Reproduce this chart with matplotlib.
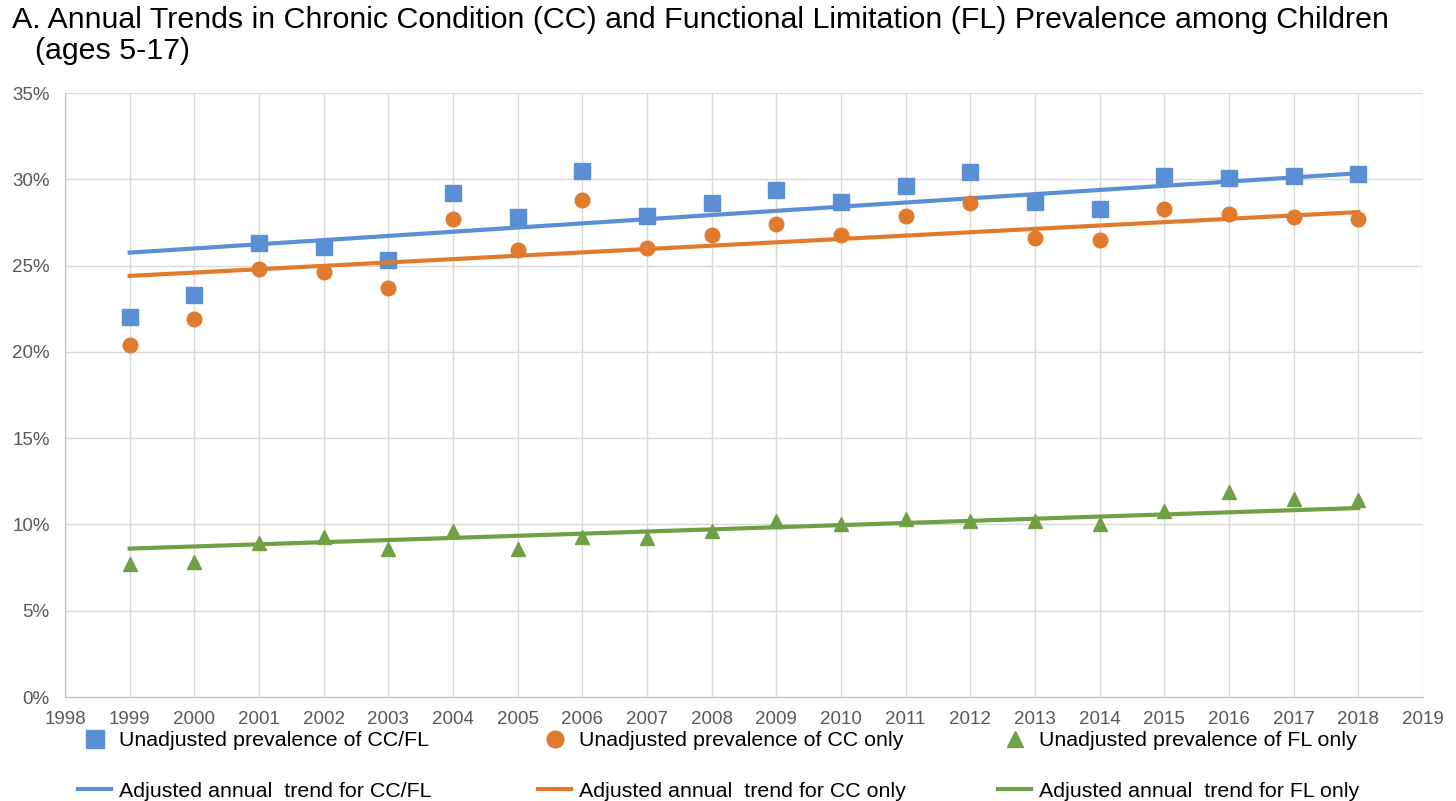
import numpy as np
import matplotlib.pyplot as plt
from matplotlib.ticker import FuncFormatter

plt.rcParams['font.family'] = ['Liberation Sans', 'DejaVu Sans']

years = list(range(1999, 2019))

cc_fl = [22.0, 23.3, 26.3, 26.1, 25.3, 29.2, 27.8, 30.5, 27.9, 28.6,
         29.4, 28.7, 29.6, 30.4, 28.7, 28.3, 30.2, 30.1, 30.2, 30.3]
cc_only = [20.4, 21.9, 24.8, 24.6, 23.7, 27.7, 25.9, 28.8, 26.0, 26.8,
           27.4, 26.8, 27.9, 28.6, 26.6, 26.5, 28.3, 28.0, 27.8, 27.7]
fl_only = [7.7, 7.8, 8.9, 9.3, 8.6, 9.6, 8.6, 9.3, 9.2, 9.6,
           10.2, 10.0, 10.3, 10.2, 10.2, 10.0, 10.8, 11.9, 11.5, 11.4]

trend_years = [1999, 2018]
trend_cc_fl = [25.75, 30.35]
trend_cc = [24.4, 28.1]
trend_fl = [8.6, 10.95]

blue = '#5B8FD4'
orange = '#E07B2E'
green = '#6FA044'

W, H = 1456, 801
fig = plt.figure(figsize=(W / 100, H / 100), dpi=100)
ax = fig.add_axes([65 / W, 1 - 697 / H, (1423 - 65) / W, (697 - 93) / H])

sq, = ax.plot(years, cc_fl, 's', color=blue, markersize=11.5, linestyle='none',
              label='Unadjusted prevalence of CC/FL')
ln1, = ax.plot(trend_years, trend_cc_fl, '-', color=blue, linewidth=3,
               label='Adjusted annual  trend for CC/FL')
ci, = ax.plot(years, cc_only, 'o', color=orange, markersize=10.5, linestyle='none',
              label='Unadjusted prevalence of CC only')
ln2, = ax.plot(trend_years, trend_cc, '-', color=orange, linewidth=3,
               label='Adjusted annual  trend for CC only')
tr, = ax.plot(years, fl_only, '^', color=green, markersize=10.5, linestyle='none',
              label='Unadjusted prevalence of FL only')
ln3, = ax.plot(trend_years, trend_fl, '-', color=green, linewidth=3,
               label='Adjusted annual  trend for FL only')

ax.set_xlim(1998, 2019)
ax.set_ylim(0, 35)
ax.set_xticks(range(1998, 2020))
ax.set_yticks(range(0, 36, 5))
ax.yaxis.set_major_formatter(FuncFormatter(lambda v, p: f'{v:.0f}%'))
ax.grid(True, color='#D9D9D9', linewidth=1)
ax.set_axisbelow(True)
for s in ['top', 'right']:
    ax.spines[s].set_visible(False)
for s in ['left', 'bottom']:
    ax.spines[s].set_color('#BFBFBF')
ax.tick_params(axis='both', length=0, labelsize=13.5, colors='#595959')
ax.tick_params(axis='x', pad=10)
ax.tick_params(axis='y', pad=11)

fig.text(12 / W, 1 - 20 / H,
         'A. Annual Trends in Chronic Condition (CC) and Functional Limitation (FL) Prevalence among Children',
         fontsize=21.9, va='center', ha='left')
fig.text(35 / W, 1 - 51 / H, '(ages 5-17)', fontsize=21.9, va='center', ha='left')

# three legend columns placed separately
for handles, xpx in [([sq, ln1], 78), ([ci, ln2], 538), ([tr, ln3], 998)]:
    fig.legend(handles=handles, loc='center left', bbox_to_anchor=(xpx / W, 1 - 766 / H),
               frameon=False, fontsize=15.4, borderpad=0, borderaxespad=0,
               handlelength=1.55, handletextpad=0.37, labelspacing=1.45,
               markerscale=1.15)

fig.savefig('out.png', dpi=100)
